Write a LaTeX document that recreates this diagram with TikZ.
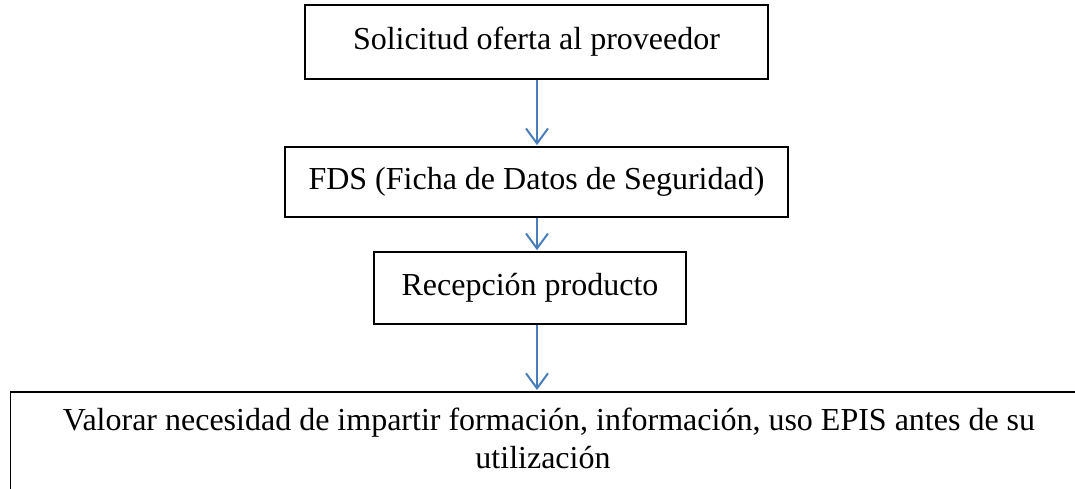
\documentclass[tikz,border=0pt]{standalone}
\usepackage{fontspec}
\setmainfont{Liberation Serif}
\usetikzlibrary{arrows.meta}
\definecolor{arrowblue}{HTML}{4A7EBB}
\begin{document}
\begin{tikzpicture}[x=1pt,y=-1pt,
  boxnode/.style={draw=black,line width=1.7pt,inner sep=0pt,font=\fontsize{32}{38}\selectfont},
  flowarrow/.style={draw=arrowblue,line width=2pt,-{Straight Barb[length=15pt,width=22pt,line width=2pt]},shorten >=1pt}]
\useasboundingbox (0,0) rectangle (1075,488);
\clip (0,0) rectangle (1075,488);
\node[boxnode,minimum width=463pt,minimum height=74pt] (b1) at (536.5,42) {Solicitud oferta al proveedor};
\node[boxnode,minimum width=503pt,minimum height=70pt] (b2) at (536.5,182) {FDS (Ficha de Datos de Seguridad)};
\node[boxnode,minimum width=312pt,minimum height=72pt] (b3) at (530,288) {Recepción producto};
\node[boxnode,minimum width=1080pt,minimum height=110pt,anchor=north west] (b4) at (9.5,391) {};
\node[font=\fontsize{32}{38}\selectfont,align=center,anchor=north,inner sep=0pt] (t4) at (549,408) {Valorar necesidad de impartir formación, información, uso EPIS antes de su\\utilización\hspace*{12pt}};
\draw[flowarrow] (b1.south -| 537,0) -- (b2.north -| 537,0);
\draw[flowarrow] (b2.south -| 537,0) -- (b3.north -| 537,0);
\draw[flowarrow] (b3.south -| 537,0) -- (b4.north -| 537,0);
\end{tikzpicture}
\end{document}
